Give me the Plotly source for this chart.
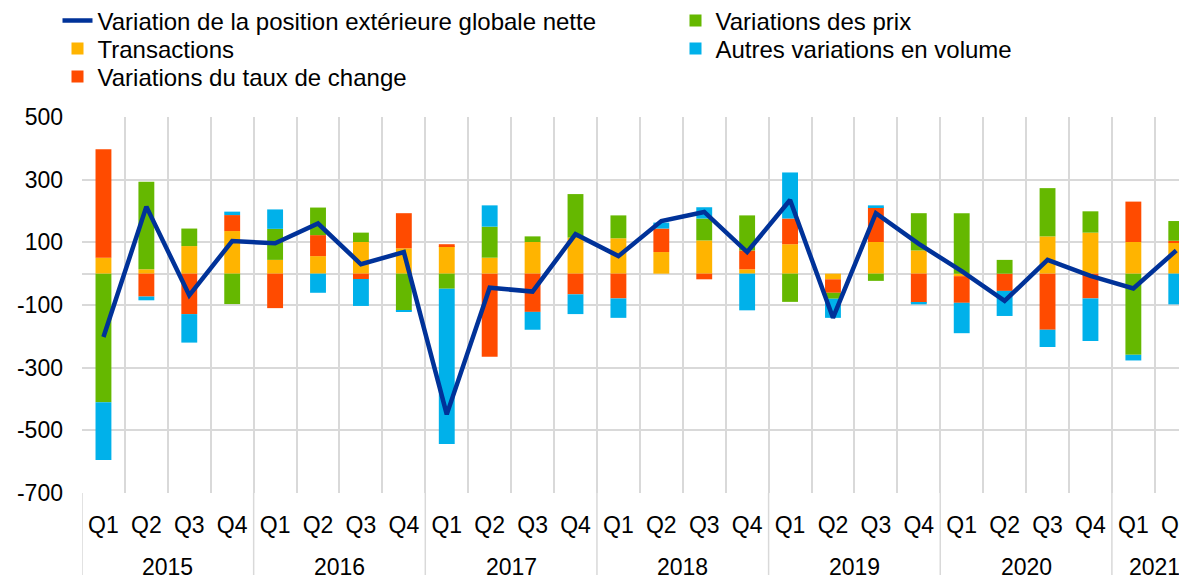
import plotly.graph_objects as go

quarters = ["Q1", "Q2", "Q3", "Q4"] * 6 + ["Q1", "Q2"]
years = ["2015"] * 4 + ["2016"] * 4 + ["2017"] * 4 + ["2018"] * 4 + ["2019"] * 4 + ["2020"] * 4 + ["2021"] * 2
year_labels = ["2015", "2016", "2017", "2018", "2019", "2020", "2021"]
categories = [f"{y} {q}" for y, q in zip(years, quarters)]
y_ticks = [500, 300, 100, -100, -300, -500, -700]
y_tick_labels = ["500", "300", "100", "-100", "-300", "-500", "-700"]

transactions = [51, 14, 88, 136, 44, 56, 101, 81, 88, 51, 101, 115,
                113, 69, 106, 14, 94, -18, 101, 74, -8, 0, 119, 131, 101, 100]
taux_change = [346, -73, -129, 51, -110, 67, -17, 112, 6, -265, -122, -66,
               -79, 75, -18, 60, 82, -43, 111, -93, -85, -55, -179, -79, 129, 5]
prix = [-410, 279, 56, -97, 99, 88, 30, -118, -48, 99, 18, 139,
        73, 0, 70, 112, -90, -19, -23, 119, 193, 44, 154, 68, -259, 63]
autres = [-185, -12, -91, 11, 62, -61, -86, -4, -496, 68, -57, -63,
          -62, 19, 36, -117, 147, -61, 6, -5, -97, -80, -55, -136, -18, -98]
net = [-202, 214, -69, 104, 97, 160, 30, 69, -449, -45, -57, 126,
       56, 168, 197, 69, 235, -141, 193, 95, 8, -87, 44, -7, -47, 74]

FONT = "Liberation Sans, Arial, sans-serif"
GRID = "#d9d9d9"
W, H = 1179, 567  # page has an 8px body margin

fig = go.Figure()
fig.add_trace(go.Bar(x=categories, y=transactions, name="Transactions",
                     marker=dict(color="#FFB400", line=dict(width=0)), legend="legend2"))
fig.add_trace(go.Bar(x=categories, y=taux_change, name="Variations du taux de change",
                     marker=dict(color="#FF4B00", line=dict(width=0)), legend="legend3"))
fig.add_trace(go.Bar(x=categories, y=prix, name="Variations des prix",
                     marker=dict(color="#65B800", line=dict(width=0)), legend="legend4"))
fig.add_trace(go.Bar(x=categories, y=autres, name="Autres variations en volume",
                     marker=dict(color="#00B1EA", line=dict(width=0)), legend="legend5"))
fig.add_trace(go.Scatter(x=categories, y=net, name="Variation de la position extérieure globale nette",
                         mode="lines", line=dict(color="#003299", width=4.5), legend="legend"))


def leg(xpx, ypx):
    return dict(orientation="v", xref="container", yref="container",
                xanchor="left", yanchor="middle", x=xpx / W, y=1 - ypx / H,
                font=dict(family=FONT, size=24, color="#000000"),
                bgcolor="rgba(0,0,0,0)")


shapes = []
for b in [-0.5, 3.5, 7.5, 11.5, 15.5, 19.5, 23.5]:
    shapes.append(dict(type="line", xref="x", yref="paper", x0=b, x1=b, y0=0, y1=-0.3,
                       line=dict(color=GRID, width=1.5), layer="below"))

annotations = []
for yl in year_labels:
    idx = [k for k, y in enumerate(years) if y == yl]
    center = (idx[0] + idx[-1]) / 2
    annotations.append(dict(text=yl, x=center, xref="x", y=-0.196, yref="paper",
                            showarrow=False, yanchor="middle",
                            font=dict(family=FONT, size=23, color="#000000")))

fig.update_layout(
    width=W, height=H,
    margin=dict(l=74, r=0, t=109, b=82, autoexpand=False),
    paper_bgcolor="white", plot_bgcolor="white",
    barmode="relative", bargap=0.63,
    showlegend=True,
    legend=leg(49.5, 13),
    legend2=leg(49.5, 41),
    legend3=leg(49.5, 69),
    legend4=leg(667.5, 13),
    legend5=leg(667.5, 41),
    shapes=shapes, annotations=annotations,
    font=dict(family=FONT, size=23, color="#000000"),
)
fig.update_xaxes(type="category", categoryorder="array", categoryarray=categories,
                 tickvals=categories, ticktext=quarters, tickson="boundaries",
                 range=[-0.5, 25.25], showgrid=True, gridcolor=GRID, gridwidth=1.5,
                 ticks="", ticklabelstandoff=16, showline=False, zeroline=False,
                 tickfont=dict(family=FONT, size=23, color="#000000"))
fig.update_yaxes(range=[-700, 500], tickmode="array", tickvals=y_ticks, ticktext=y_tick_labels,
                 showgrid=True, gridcolor=GRID, gridwidth=1.5, zeroline=True,
                 zerolinecolor=GRID, zerolinewidth=1.5, ticks="", ticklabelstandoff=18,
                 showline=False, tickfont=dict(family=FONT, size=23, color="#000000"))

fig.write_html("out.html")
